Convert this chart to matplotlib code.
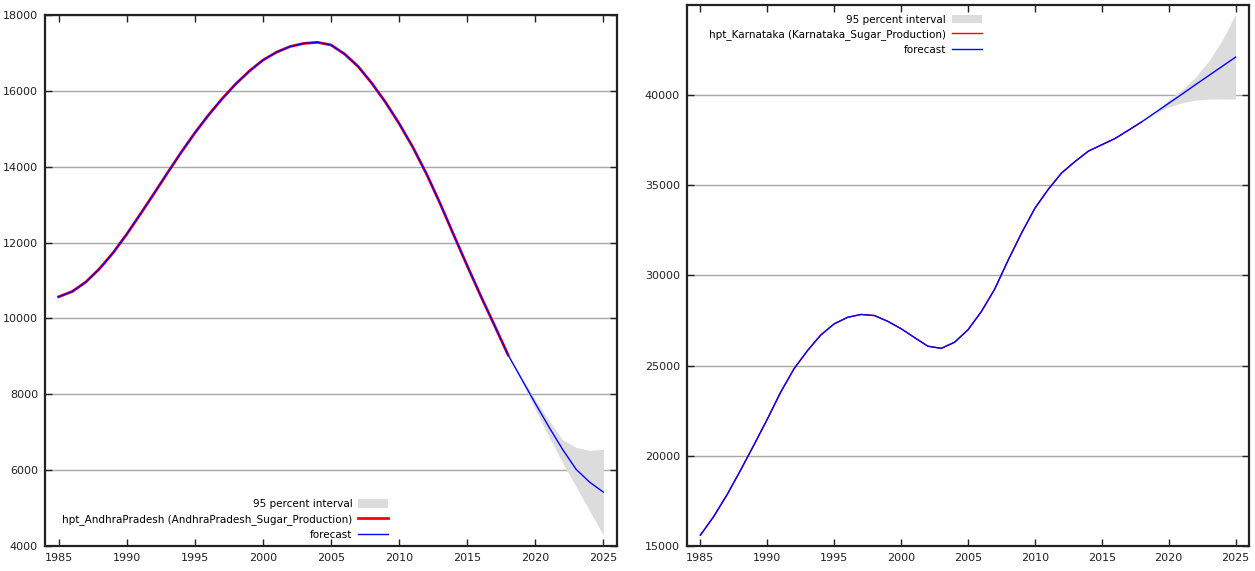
import matplotlib
matplotlib.use("Agg")
import matplotlib.pyplot as plt
import numpy as np

# Andhra Pradesh: HP trend of sugar production (actual to 2018) and forecast
ap_years = np.arange(1985, 2019)
ap_trend = [10570, 10710, 10960, 11310, 11730, 12220, 12750, 13290, 13840, 14380,
            14890, 15360, 15790, 16180, 16520, 16810, 17020, 17170, 17250, 17280,
            17210, 16970, 16640, 16200, 15700, 15140, 14520, 13820, 13040, 12210,
            11390, 10590, 9820, 9040]
ap_fc_years = np.arange(2018, 2026)
ap_fc = [9040, 8400, 7760, 7140, 6550, 6020, 5680, 5420]
ap_upper = [9040, 8430, 7860, 7320, 6800, 6600, 6520, 6550]
ap_lower = [9040, 8340, 7600, 6880, 6200, 5560, 4920, 4290]

# Karnataka
ka_years = np.arange(1985, 2019)
ka_trend = [15600, 16640, 17850, 19200, 20600, 22030, 23530, 24830, 25830, 26700,
            27320, 27680, 27840, 27780, 27460, 27050, 26560, 26080, 25960, 26300,
            26990, 28000, 29250, 30850, 32350, 33730, 34780, 35690, 36320, 36900,
            37250, 37600, 38060, 38530]
ka_fc_years = np.arange(2018, 2026)
ka_fc = [38530, 39040, 39550, 40060, 40580, 41090, 41600, 42110]
ka_upper = [38530, 39100, 39750, 40300, 41000, 41900, 43050, 44500]
ka_lower = [38530, 39000, 39350, 39580, 39720, 39780, 39790, 39780]

x_ticks = list(range(1985, 2030, 5))
ap_yticks = list(range(4000, 20000, 2000))
ka_yticks = list(range(15000, 45000, 5000))

plt.rcParams['font.family'] = ['DejaVu Sans']
plt.rcParams['font.size'] = 8

fig = plt.figure(figsize=(12.55, 5.71), dpi=100)
ax1 = fig.add_axes([45 / 1255, 25 / 571, 572 / 1255, 531 / 571])
ax2 = fig.add_axes([687 / 1255, 25 / 571, 562 / 1255, 541 / 571])


def style_axes(ax, yticks, ylim):
    ax.set_xlim(1984, 2026)
    ax.set_ylim(*ylim)
    ax.set_xticks(x_ticks)
    ax.set_yticks(yticks)
    ax.yaxis.grid(True, color='#a8a8a8', lw=1)
    ax.set_axisbelow(True)
    ax.tick_params(direction='in', top=True, right=True, length=5, width=1,
                   labelsize=8, colors='#222222', pad=5)
    for s in ax.spines.values():
        s.set_linewidth(1.6)
        s.set_color('#222222')


def draw_panel(ax, years, trend, fc_years, fc, upper, lower, label, red_lw):
    all_years = np.concatenate([years, fc_years[1:]])
    all_fc = list(trend) + list(fc[1:])
    band_up = list(trend) + list(upper[1:])
    band_lo = list(trend) + list(lower[1:])
    band = ax.fill_between(all_years, band_lo, band_up, color='#dcdcdc', lw=0,
                           label='95 percent interval', zorder=1)
    red, = ax.plot(years, trend, color='#ff0000', lw=red_lw, label=label, zorder=2)
    blue, = ax.plot(all_years, all_fc, color='#0000ff', lw=1, label='forecast', zorder=3)
    return [band, red, blue]


leg_kw = dict(frameon=False, markerfirst=False, handlelength=2.9, handleheight=0.9,
              handletextpad=0.55, labelspacing=0.45, borderpad=0, borderaxespad=0,
              fontsize=7.5)

h1 = draw_panel(ax1, ap_years, ap_trend, ap_fc_years, ap_fc, ap_upper, ap_lower,
                'hpt_AndhraPradesh (AndhraPradesh_Sugar_Production)', 2)
style_axes(ax1, ap_yticks, (4000, 18000))
ax1.legend(handles=h1, loc='lower right', bbox_to_anchor=(0.60, 0.012), **leg_kw)

h2 = draw_panel(ax2, ka_years, ka_trend, ka_fc_years, ka_fc, ka_upper, ka_lower,
                'hpt_Karnataka (Karnataka_Sugar_Production)', 1)
style_axes(ax2, ka_yticks, (15000, 45000))
ax2.legend(handles=h2, loc='upper right', bbox_to_anchor=(0.525, 0.982), **leg_kw)

fig.savefig('out.png', dpi=100)
